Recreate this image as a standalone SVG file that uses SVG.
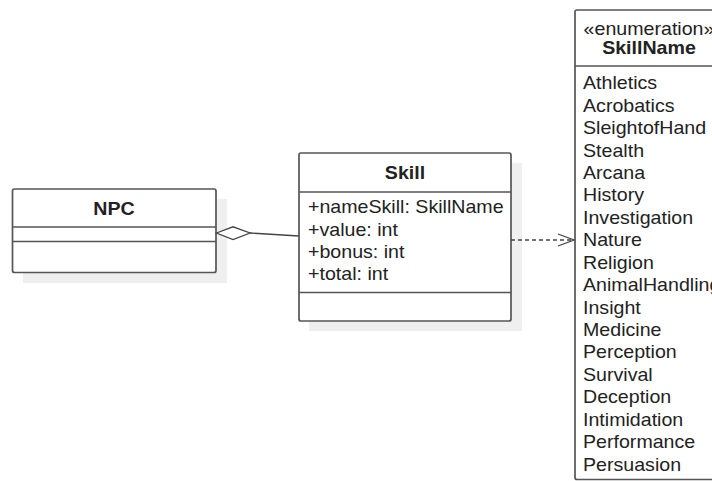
<svg xmlns="http://www.w3.org/2000/svg" width="712" height="481" viewBox="0 0 712 481">
<style>
.box{fill:#ffffff;stroke:#555555;stroke-width:1.7}
.sep{stroke:#555555;stroke-width:1.7}
.shadow{fill:#efefef}
.t{font-family:"Liberation Sans",Arial,sans-serif;font-size:18px;fill:#222222}
.b{font-weight:bold;text-anchor:middle}
.c{text-anchor:middle}
.conn{fill:none;stroke:#444444;stroke-width:1.3}
</style>
<rect width="712" height="481" fill="#ffffff"/>
<g id="npc">
<rect class="shadow" x="23" y="199" width="204" height="84"/>
<rect class="box" x="12.5" y="189" width="203.5" height="83.5" rx="2"/>
<line class="sep" x1="12.5" y1="227" x2="216" y2="227"/>
<line class="sep" x1="12.5" y1="241.5" x2="216" y2="241.5"/>
<text class="t b" transform="translate(114,215) scale(1.09,1)">NPC</text>
</g>
<g id="skill">
<rect class="shadow" x="309" y="163" width="213" height="168"/>
<rect class="box" x="299" y="153" width="212" height="168" rx="2"/>
<line class="sep" x1="299" y1="192" x2="511" y2="192"/>
<line class="sep" x1="299" y1="292.5" x2="511" y2="292.5"/>
<text class="t b" transform="translate(405,179) scale(1.09,1)">Skill</text>
<g class="t" transform="translate(308,0) scale(1.09,1)">
<text x="0" y="213.3">+nameSkill: SkillName</text>
<text x="0" y="235.7">+value: int</text>
<text x="0" y="258">+bonus: int</text>
<text x="0" y="280.3">+total: int</text>
</g>
</g>
<g id="skillname">
<rect class="box" x="575" y="10" width="150" height="469.5" rx="2"/>
<line class="sep" x1="575" y1="66" x2="725" y2="66"/>
<text class="t c" transform="translate(649,35) scale(1.09,1)">«enumeration»</text>
<text class="t b" transform="translate(649,54) scale(1.09,1)">SkillName</text>
<g class="t" transform="translate(583,0) scale(1.09,1)">
<text x="0" y="89.3">Athletics</text>
<text x="0" y="111.7">Acrobatics</text>
<text x="0" y="134.2">SleightofHand</text>
<text x="0" y="156.6">Stealth</text>
<text x="0" y="179">Arcana</text>
<text x="0" y="201.5">History</text>
<text x="0" y="223.9">Investigation</text>
<text x="0" y="246.3">Nature</text>
<text x="0" y="268.7">Religion</text>
<text x="0" y="291.2">AnimalHandling</text>
<text x="0" y="313.6">Insight</text>
<text x="0" y="336">Medicine</text>
<text x="0" y="358.5">Perception</text>
<text x="0" y="380.9">Survival</text>
<text x="0" y="403.3">Deception</text>
<text x="0" y="425.8">Intimidation</text>
<text x="0" y="448.2">Performance</text>
<text x="0" y="470.6">Persuasion</text>
</g>
</g>
<g id="connectors">
<path class="conn" d="M216.5,233 L233,226.8 L250,233 L233,239.5 Z" style="fill:#ffffff"/>
<path class="conn" d="M250,233 L299,236"/>
<path class="conn" d="M511,240 L573,240" stroke-dasharray="4,3"/>
<path class="conn" d="M558,234 L574,240 L558,246"/>
</g>
</svg>
